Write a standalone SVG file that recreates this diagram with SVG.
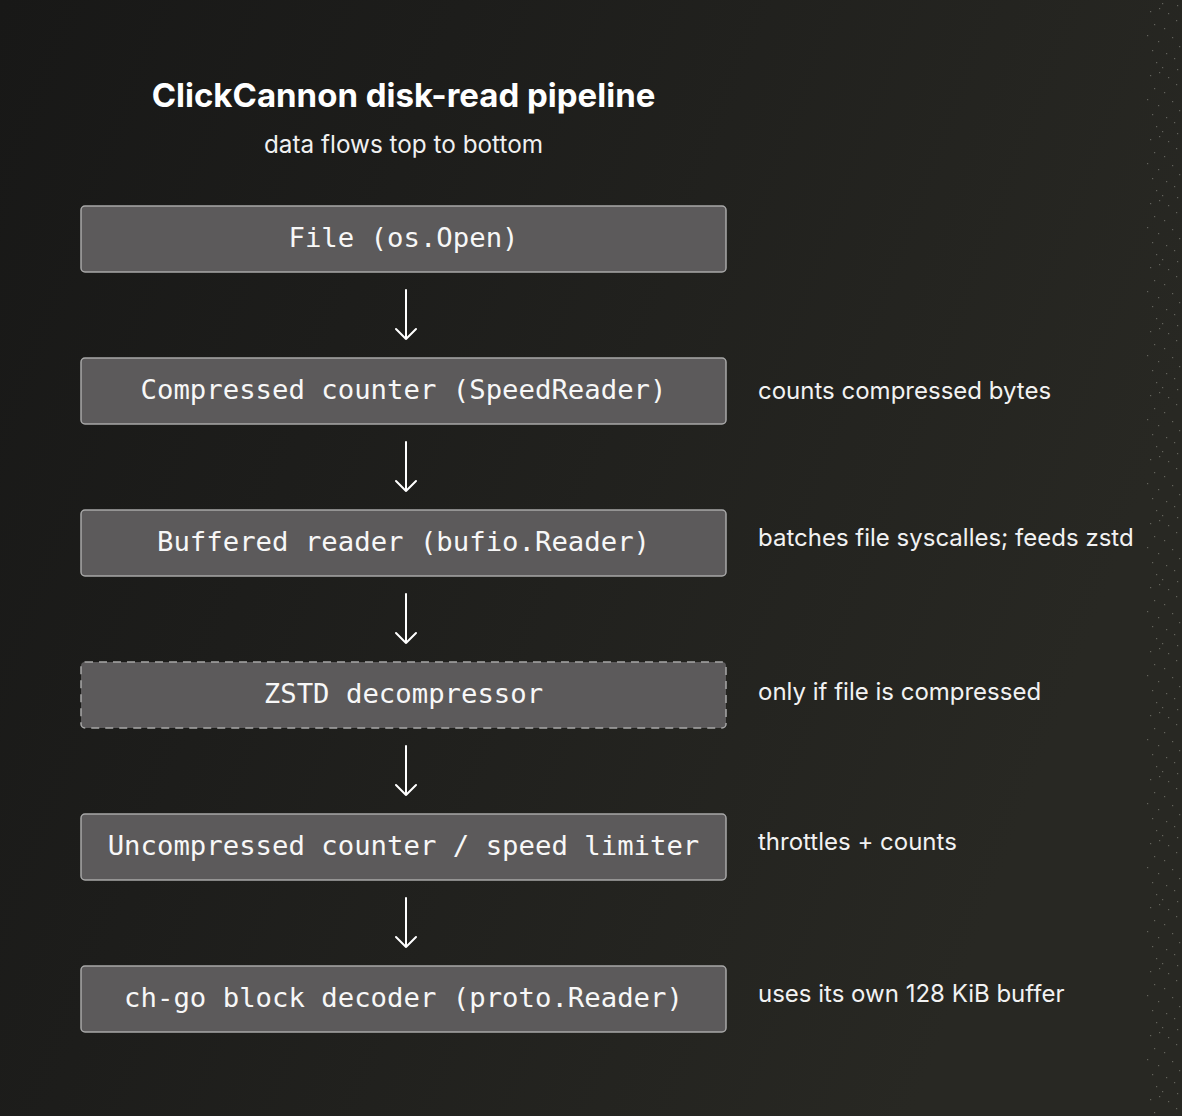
<svg xmlns="http://www.w3.org/2000/svg" width="1182" height="1116" viewBox="0 0 1182 1116">
  <defs>
    <linearGradient id="bg" x1="0" y1="0" x2="1" y2="0.35">
      <stop offset="0" stop-color="#181817"/>
      <stop offset="0.35" stop-color="#1d1d1b"/>
      <stop offset="1" stop-color="#282823"/>
    </linearGradient>
    <pattern id="dots" x="1146" y="8" width="36" height="64" patternUnits="userSpaceOnUse">
      <g fill="#8a8a82">
        <rect x="4" y="3" width="1.2" height="1.2"/>
        <rect x="13" y="0" width="1.2" height="1.2"/>
        <rect x="22" y="5" width="1.2" height="1.2"/>
        <rect x="30" y="12" width="1.2" height="1.2"/>
        <rect x="8" y="16" width="1.2" height="1.2"/>
        <rect x="18" y="20" width="1.2" height="1.2"/>
        <rect x="1" y="27" width="1.2" height="1.2"/>
        <rect x="26" y="29" width="1.2" height="1.2"/>
        <rect x="12" y="33" width="1.2" height="1.2"/>
        <rect x="33" y="38" width="1.2" height="1.2"/>
        <rect x="6" y="42" width="1.2" height="1.2"/>
        <rect x="20" y="45" width="1.2" height="1.2"/>
        <rect x="28" y="50" width="1.2" height="1.2"/>
        <rect x="10" y="54" width="1.2" height="1.2"/>
        <rect x="16" y="59" width="1.2" height="1.2"/>
        <rect x="31" y="61" width="1.2" height="1.2"/>
      </g>
    </pattern>
  </defs>
  <style>
    .node rect { fill: #5c5a5b; stroke: #a8a8a8; stroke-width: 1.5; }
    .node.dashed rect { stroke-dasharray: 8 6; }
    .node text { font-family: "DejaVu Sans Mono", "Liberation Mono", monospace; font-size: 27.3px; fill: #f7f7f7; text-anchor: middle; }
    .note { font-family: Inter, "Liberation Sans", sans-serif; font-size: 24px; fill: #f2f2f2; }
    .title { font-family: Inter, "Liberation Sans", sans-serif; font-size: 33px; font-weight: 700; fill: #ffffff; text-anchor: middle; }
    .sub { font-family: Inter, "Liberation Sans", sans-serif; font-size: 24.3px; fill: #f0f0f0; text-anchor: middle; }
    .conn path { fill: none; stroke: #ffffff; stroke-width: 2; stroke-linecap: round; stroke-linejoin: round; }
  </style>
  <rect width="1182" height="1116" fill="url(#bg)"/>
  <rect x="1146" y="0" width="36" height="1116" fill="url(#dots)" opacity="0.6"/>

  <text class="title" x="403.5" y="107">ClickCannon disk-read pipeline</text>
  <text class="sub" x="403.5" y="153">data flows top to bottom</text>

  <g id="n1" class="node">
    <rect x="81" y="206" width="645" height="66" rx="4"/>
    <text x="403.5" y="247">File (os.Open)</text>
  </g>
  <g id="n2" class="node">
    <rect x="81" y="358" width="645" height="66" rx="4"/>
    <text x="403.5" y="399">Compressed counter (SpeedReader)</text>
  </g>
  <g id="n3" class="node">
    <rect x="81" y="510" width="645" height="66" rx="4"/>
    <text x="403.5" y="551">Buffered reader (bufio.Reader)</text>
  </g>
  <g id="n4" class="node dashed">
    <rect x="81" y="662" width="645" height="66" rx="4"/>
    <text x="403.5" y="703">ZSTD decompressor</text>
  </g>
  <g id="n5" class="node">
    <rect x="81" y="814" width="645" height="66" rx="4"/>
    <text x="403.5" y="855">Uncompressed counter / speed limiter</text>
  </g>
  <g id="n6" class="node">
    <rect x="81" y="966" width="645" height="66" rx="4"/>
    <text x="403.5" y="1007">ch-go block decoder (proto.Reader)</text>
  </g>

  <g id="notes">
    <text class="note" x="758" y="399">counts compressed bytes</text>
    <text class="note" x="758" y="546">batches file syscalles; feeds zstd</text>
    <text class="note" x="758" y="700">only if file is compressed</text>
    <text class="note" x="758" y="850">throttles + counts</text>
    <text class="note" x="758" y="1002">uses its own 128 KiB buffer</text>
  </g>

  <g id="connectors" class="conn">
    <path d="M406 290 V339 M396 329 L406 339 L416 329"/>
    <path d="M406 442 V491 M396 481 L406 491 L416 481"/>
    <path d="M406 594 V643 M396 633 L406 643 L416 633"/>
    <path d="M406 746 V795 M396 785 L406 795 L416 785"/>
    <path d="M406 898 V947 M396 937 L406 947 L416 937"/>
  </g>
</svg>
